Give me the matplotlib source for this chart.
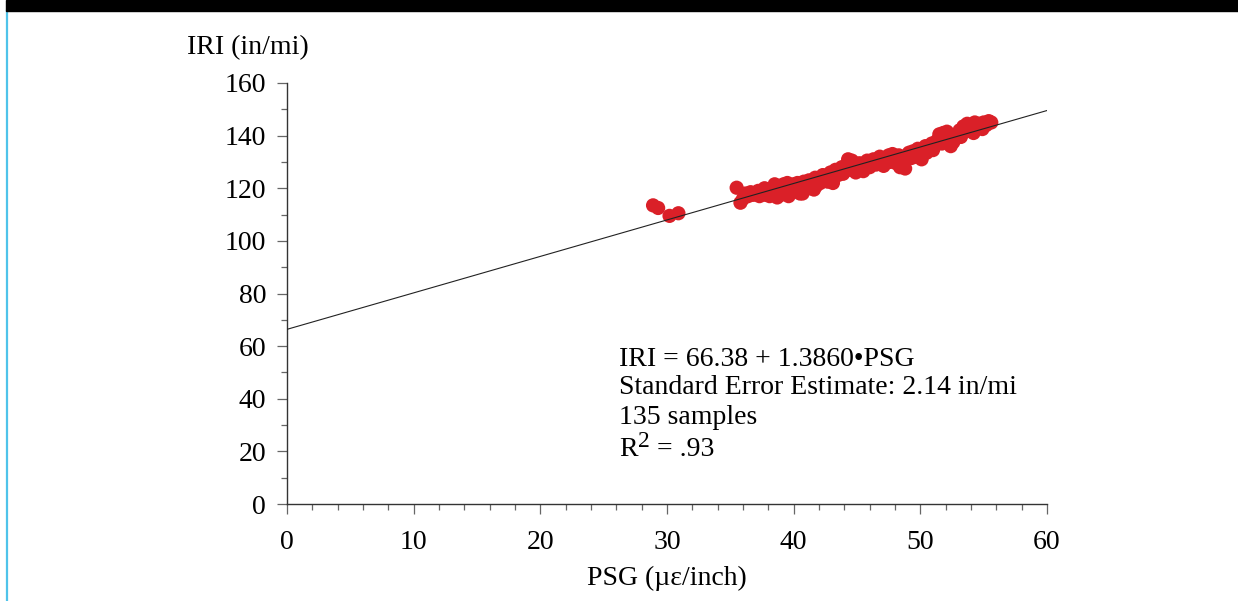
import matplotlib
matplotlib.use("Agg")
import matplotlib.pyplot as plt
from matplotlib.patches import Rectangle
from matplotlib.lines import Line2D
import numpy as np

plt.rcParams['font.family'] = ['Liberation Serif', 'DejaVu Serif']

# ---- data ----
psg = [28.9, 29.3, 30.2, 30.9,
       35.5, 35.8, 36.0, 36.2, 36.4, 36.6, 36.8, 37.0, 37.2, 37.3, 37.5, 37.7, 37.8,
       38.0, 38.1, 38.3, 38.4, 38.6, 38.7, 38.9, 39.0, 39.2, 39.3, 39.5, 39.6, 39.8,
       39.9, 40.0, 40.2, 40.3, 40.5, 40.6, 40.8, 40.9, 41.1, 41.2, 41.4, 41.5, 41.7,
       41.8, 42.0, 42.1, 42.3, 42.4, 42.6, 42.7, 42.9, 43.0, 43.2, 43.3, 43.5, 43.6,
       43.8, 43.9, 44.1, 44.2, 44.3, 44.5, 44.6, 44.8, 44.9, 45.1, 45.2, 45.4, 45.5,
       45.7, 45.8, 46.0, 46.2, 46.3, 46.5, 46.7, 46.8, 47.0, 47.1, 47.3, 47.5, 47.6,
       47.8, 48.0, 48.1, 48.3, 48.4, 48.6, 48.8, 48.9, 49.1, 49.3, 49.4, 49.6, 49.8,
       49.9, 50.1, 50.2, 50.4, 50.5, 50.7, 50.9, 51.0, 51.2, 51.3, 51.5, 51.7, 51.8,
       52.0, 52.1, 52.3, 52.4, 52.6, 52.8, 52.9, 53.1, 53.2, 53.4, 53.5, 53.7, 53.9,
       54.0, 54.2, 54.3, 54.5, 54.7, 54.9, 55.0, 55.2, 55.4, 55.6,
       38.5, 39.4, 40.7, 41.6, 43.1]
iri = [113.5, 112.5, 109.5, 110.5,
       120.2, 114.5, 116.0, 118.0, 117.0, 118.5, 117.5, 118.0, 119.0, 117.0, 118.5, 120.0, 117.5,
       119.0, 117.0, 120.0, 118.0, 121.0, 116.5, 119.5, 117.5, 121.5, 119.0, 122.0, 117.0, 120.0,
       118.5, 121.5, 119.0, 122.0, 118.0, 120.5, 122.5, 119.5, 121.0, 123.0, 120.0, 122.0, 124.0,
       121.0, 123.5, 122.0, 125.0, 123.0, 124.5, 122.5, 126.0, 124.0, 125.5, 127.0, 125.0, 126.5,
       128.0, 125.5, 127.0, 129.0, 131.0, 127.0, 130.5, 128.5, 126.0, 127.5, 129.5, 128.0, 126.5,
       129.0, 130.5, 128.0, 129.5, 131.0, 129.0, 130.5, 132.0, 130.0, 128.5, 131.0, 132.5, 130.0,
       133.0, 131.5, 129.5, 132.5, 128.0, 131.0, 127.5, 132.0, 133.5, 131.5, 134.0, 132.0, 135.0,
       133.0, 131.0, 134.5, 136.0, 133.5, 135.0, 137.0, 134.5, 136.5, 138.0, 140.5, 137.0, 141.0,
       139.5, 141.5, 138.0, 136.0, 137.5, 139.0, 140.5, 142.0, 139.5, 143.5, 141.5, 144.5, 142.0,
       143.5, 141.0, 145.0, 143.0, 144.5, 142.5, 145.0, 144.0, 145.5, 145.0,
       121.5, 120.5, 118.0, 119.5, 122.0]

intercept = 66.38
slope = 1.3860
fit_x = [0, 60]

x_ticks = [0, 10, 20, 30, 40, 50, 60]
y_ticks = [0, 20, 40, 60, 80, 100, 120, 140, 160]

annot = ["IRI = 66.38 + 1.3860\u2022PSG",
         "Standard Error Estimate: 2.14 in/mi",
         "135 samples"]
r2_parts = ["R", "2", " = .93"]

FS = 20

# ---- figure ----
fig = plt.figure(figsize=(12.38, 6.01), dpi=100)
ax = fig.add_axes([287/1238, 1-504/601, (1047-287)/1238, (504-83)/601])

fit_y = [intercept + slope * v for v in fit_x]
ax.plot(fit_x, fit_y, color='#222222', lw=0.8, zorder=3)
ax.scatter(psg, iri, s=105, color='#da2028', edgecolors='none', zorder=2)

ax.set_xlim(0, 60)
ax.set_ylim(0, 160)
ax.set_xticks(x_ticks)
ax.set_yticks(y_ticks)
ax.set_xticks(np.arange(0, 61, 2), minor=True)
ax.set_yticks(np.arange(0, 161, 10), minor=True)
ax.spines['top'].set_visible(False)
ax.spines['right'].set_visible(False)
for s in ['left', 'bottom']:
    ax.spines[s].set_color('#333333')
    ax.spines[s].set_linewidth(1.0)
ax.tick_params(which='major', direction='out', length=7, width=0.9, color='#666666',
               labelsize=FS)
ax.tick_params(axis='y', which='major', pad=8)
ax.tick_params(axis='x', which='major', pad=12)
ax.tick_params(which='minor', direction='out', length=4, width=0.9, color='#666666')

ys = [54.8, 44.2, 32.8]
for t, yy in zip(annot, ys):
    ax.text(26.2, yy, t, fontsize=FS, va='center', ha='left')

# R^2 line built from pieces so the superscript stays large
fig.canvas.draw()
renderer = fig.canvas.get_renderer()
r2_y = 18.3
tR = ax.text(26.2, r2_y, r2_parts[0], fontsize=FS, va='baseline', ha='left')
bb = tR.get_window_extent(renderer)
x_px, y_px = bb.x1, ax.transData.transform((26.2, r2_y))[1]
t2 = fig.text((x_px + 1) / 1238, (y_px + 9) / 601, r2_parts[1], fontsize=17,
              va='baseline', ha='left')
bb2 = t2.get_window_extent(renderer)
fig.text((bb2.x1) / 1238, y_px / 601, r2_parts[2], fontsize=FS, va='baseline', ha='left')

fig.text(248/1238, 1-48/601, "IRI (in/mi)", fontsize=FS, ha='center', va='center')
fig.text(667/1238, 1-578/601, "PSG (\u00b5\u03b5/inch)", fontsize=FS, ha='center', va='center')

# decorative frame: top black band and left cyan line
fig.patches.append(Rectangle((6/1238, 1-11/601), 1, 11/601, transform=fig.transFigure,
                             color='black', zorder=10))
fig.lines.append(Line2D([7/1238, 7/1238], [0, 1-11/601], transform=fig.transFigure,
                        color='#4fc3ea', lw=1.6))

fig.savefig("out.png", dpi=100)
